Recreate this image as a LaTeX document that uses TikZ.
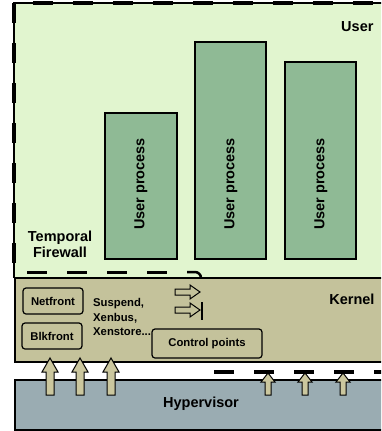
\documentclass[tikz,border=0pt]{standalone}
\usepackage{fontspec}
\setmainfont{Liberation Sans}
\definecolor{userbg}{HTML}{E1F5CF}
\definecolor{procbg}{HTML}{8FBA95}
\definecolor{kernbg}{HTML}{C4C29B}
\definecolor{hypbg}{HTML}{9AACB2}
\definecolor{arrbg}{HTML}{CBC79E}
\tikzset{
  thinbd/.style={draw=black, line width=1.2pt},
  procbox/.style={thinbd, fill=procbg},
  smallbox/.style={thinbd, fill=kernbg, rounded corners=3pt},
  bigfont/.style={font=\fontsize{14.5}{16}\selectfont\bfseries},
  smallfont/.style={font=\fontsize{11.3}{14.5}\selectfont\bfseries},
  thickdash/.style={line width=3.5pt},
  blockarr/.style={draw=black, line width=1pt, fill=arrbg, line join=miter},
  bigup/.pic={\path[blockarr] (-4,37) -- (-4,14) -- (-8,14) -- (0,0) -- (8,14) -- (4,14) -- (4,37) -- cycle;},
  smallup/.pic={\path[blockarr] (-3,22) -- (-3,9) -- (-7,9) -- (0,0) -- (7,9) -- (3,9) -- (3,22) -- cycle;},
  rightarr/.pic={\path[draw=black, line width=1pt, fill=kernbg] (0,-3) -- (15,-3) -- (15,-7) -- (25,0) -- (15,7) -- (15,3) -- (0,3) -- cycle;}
}
\begin{document}
\begin{tikzpicture}[x=1pt,y=-1pt]
\useasboundingbox (0,0) rectangle (381,431);
\clip (0,0) rectangle (381,431);
% user region
\fill[userbg] (14,3) rectangle (390,278);
\draw[line width=1.2pt] (390,3) -- (14,3) -- (14,278);
\foreach \y in {3,43,...,243} \draw[thickdash] (14,\y) -- (14,\y+20);
\foreach \x in {33,73,...,353} \draw[thickdash] (\x,3) -- (\x+20,3);
\node[bigfont, anchor=east] (user) at (377,27) {User};
% processes
\draw[procbox] (105,113) rectangle (177,259);
\draw[procbox] (195,42) rectangle (266,259);
\draw[procbox] (285,62) rectangle (356,259);
\node[bigfont, rotate=90] (p1) at (141,184) {User process};
\node[bigfont, rotate=90] (p2) at (231,184) {User process};
\node[bigfont, rotate=90] (p3) at (321,184) {User process};
\node[bigfont, align=center] (tf) at (60,244) {Temporal\\Firewall};
% firewall
\foreach \x in {27,67,107,147} \draw[line width=3pt] (\x,272) -- (\x+20,272);
\draw[line width=2.5pt] (187,272) -- (195,272) arc[start angle=270, end angle=360, radius=6] -- (201,280);
% kernel
\draw[thinbd, fill=kernbg] (15,278) rectangle (390,362);
\node[bigfont, anchor=east] (kernel) at (378,299) {Kernel};
\node[smallbox, smallfont, minimum width=60pt, minimum height=26pt] (net) at (53,301) {Netfront};
\node[smallbox, smallfont, minimum width=60pt, minimum height=26pt] (blk) at (52,336) {Blkfront};
\node[smallbox, smallfont, minimum width=110pt, minimum height=29pt] (cp) at (207,343.5) {Control points};
\node[smallfont, align=left, anchor=west, inner sep=0pt] (sx) at (93,317) {Suspend,\\Xenbus,\\Xenstore...};
\pic at (175,292) {rightarr};
\pic at (175,310) {rightarr};
\draw[line width=2.5pt] (202,302) -- (202,320);
% hypervisor
\draw[thinbd, fill=hypbg] (15,380) rectangle (390,430);
\node[bigfont] (hyp) at (201,404) {Hypervisor};
\foreach \x in {214,254,294,334,374} \draw[line width=3.2pt] (\x,372) -- (\x+20,372);
\foreach \x in {50,80,111} \pic at (\x,358) {bigup};
\foreach \x in {268,305,343} \pic at (\x,373) {smallup};
\end{tikzpicture}
\end{document}
